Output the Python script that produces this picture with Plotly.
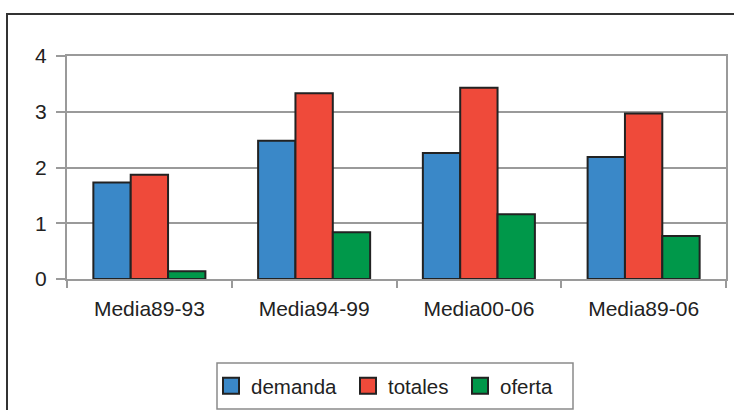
import plotly.graph_objects as go

categories = ["Media89-93", "Media94-99", "Media00-06", "Media89-06"]
demanda = [1.73, 2.48, 2.26, 2.19]
totales = [1.87, 3.33, 3.43, 2.97]
oferta = [0.14, 0.84, 1.16, 0.77]
series_names = ["demanda", "totales", "oferta"]
colors = ["#3a88c8", "#ef4a3a", "#00984a"]

W, H = 734, 410
L, R, T, B = 67, 8, 56, 131
pw, ph = W - L - R, H - T - B

FONT = "Liberation Sans, Arial, sans-serif"


def px2x(px):
    return (px - L) / pw


def px2y(py):
    return (H - B - py) / ph


fig = go.Figure()
legend_ids = ["legend", "legend2", "legend3"]
legend_origins = [211, 348, 460]  # left px of each legend entry
for name, vals, col, lid in zip(series_names, [demanda, totales, oferta], colors, legend_ids):
    fig.add_trace(go.Bar(x=categories, y=vals, name=name, showlegend=False,
                         marker=dict(color=col, line=dict(color="#222222", width=2))))
    # legend proxy with a bigger square symbol
    fig.add_trace(go.Scatter(x=[None], y=[None], name=name, mode="markers",
                             legend=lid, showlegend=True,
                             marker=dict(symbol="square", size=16, color=col,
                                         line=dict(color="#222222", width=2))))

legend_common = dict(orientation="h", yanchor="middle", xanchor="left",
                     bgcolor="rgba(0,0,0,0)", borderwidth=0,
                     font=dict(size=20.5, family=FONT, color="#222222"))
layout_legends = {}
for lid, ox in zip(legend_ids, legend_origins):
    layout_legends[lid] = dict(legend_common, x=px2x(ox), y=px2y(386))

fig.update_layout(
    width=W, height=H,
    margin=dict(l=L, r=R, t=T, b=B, autoexpand=False),
    paper_bgcolor="white", plot_bgcolor="white",
    barmode="group", bargap=0.32, bargroupgap=0,
    font=dict(family=FONT, size=21, color="#222222"),
    showlegend=True,
    xaxis=dict(type="category", showline=True, linecolor="#9a9a9a", linewidth=2,
               ticks="outside", tickson="boundaries", ticklen=7, tickcolor="#9a9a9a",
               tickwidth=2, showgrid=False, mirror=True, tickfont=dict(size=21),
               ticklabelstandoff=10),
    yaxis=dict(range=[0, 4], dtick=1, showline=True, linecolor="#9a9a9a", linewidth=2,
               ticks="outside", ticklen=9, tickcolor="#9a9a9a", tickwidth=2,
               showgrid=True, gridcolor="#9a9a9a", gridwidth=2, mirror=True,
               zeroline=False, tickfont=dict(size=21), ticklabelstandoff=5),
    shapes=[
        dict(type="path", xref="paper", yref="paper",
             path=f"M {px2x(7)} {px2y(420)} L {px2x(7)} {px2y(14)} L {px2x(740)} {px2y(14)}",
             line=dict(color="#333333", width=2)),
        dict(type="rect", xref="paper", yref="paper",
             x0=px2x(217), x1=px2x(573), y0=px2y(363), y1=px2y(409),
             line=dict(color="#8a8a8a", width=1.5)),
    ],
    **layout_legends,
)
fig.write_html("out.html")
